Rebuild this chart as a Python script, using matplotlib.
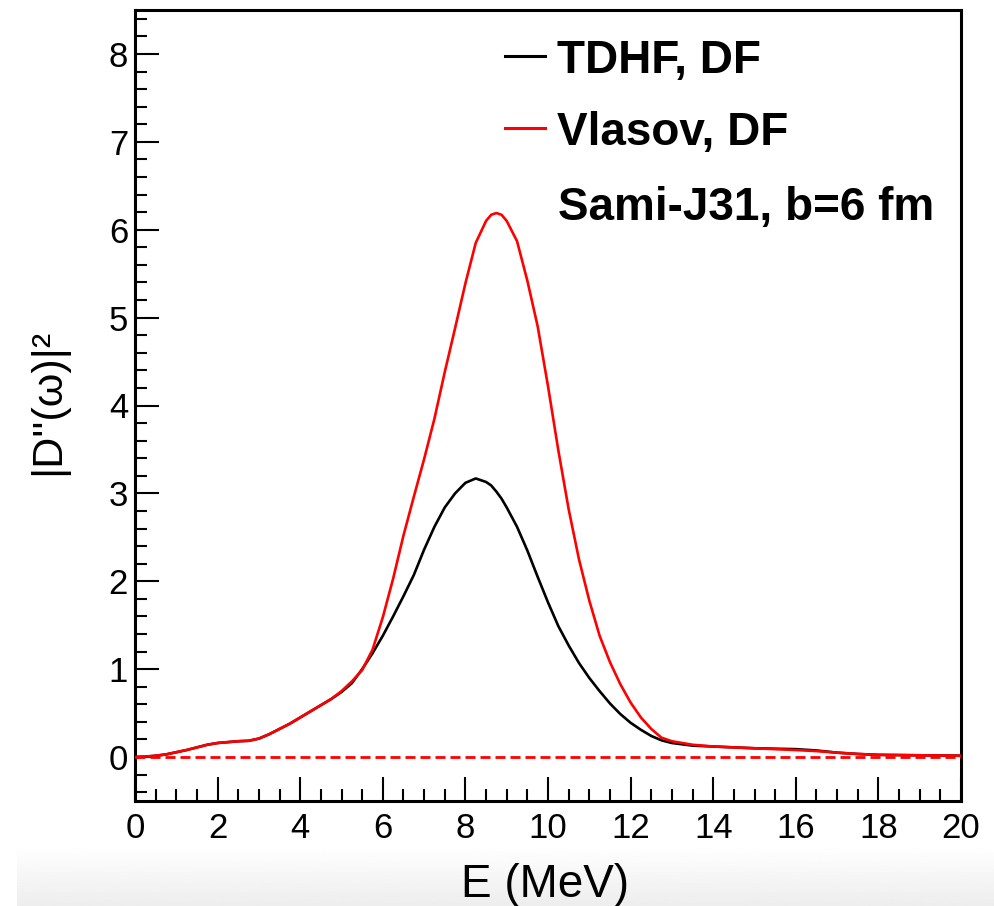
import numpy as np
import matplotlib
matplotlib.use("Agg")
import matplotlib.pyplot as plt
from matplotlib.ticker import MultipleLocator

# ---- data ----
energy = [0.0, 0.25, 0.5, 0.75, 1.0, 1.25, 1.5, 1.75, 2.0, 2.25, 2.5, 2.75,
          3.0, 3.25, 3.5, 3.75, 4.0, 4.25, 4.5, 4.75, 5.0, 5.25, 5.5, 5.75,
          6.0, 6.25, 6.5, 6.75, 7.0, 7.25, 7.5, 7.75, 8.0, 8.25, 8.5, 8.625,
          8.75, 8.875, 9.0, 9.25, 9.5, 9.75, 10.0, 10.25, 10.5, 10.75, 11.0,
          11.25, 11.5, 11.75, 12.0, 12.25, 12.5, 12.75, 13.0, 13.5, 14.0,
          14.5, 15.0, 15.5, 16.0, 16.5, 17.0, 17.5, 18.0, 19.0, 20.0]

tdhf = [0.0, 0.005, 0.015, 0.03, 0.055, 0.08, 0.11, 0.14, 0.16, 0.17, 0.18, 0.185,
        0.21, 0.26, 0.32, 0.38, 0.45, 0.52, 0.59, 0.66, 0.74, 0.84, 1.00, 1.18,
        1.38, 1.60, 1.83, 2.07, 2.36, 2.62, 2.84, 3.00, 3.12, 3.17, 3.13, 3.09,
        3.02, 2.94, 2.84, 2.62, 2.35, 2.05, 1.76, 1.49, 1.27, 1.07, 0.90,
        0.75, 0.61, 0.49, 0.39, 0.31, 0.24, 0.19, 0.16, 0.13, 0.12,
        0.11, 0.10, 0.095, 0.09, 0.075, 0.05, 0.035, 0.025, 0.02, 0.015]

vlasov = [0.0, 0.005, 0.015, 0.03, 0.055, 0.08, 0.11, 0.14, 0.16, 0.17, 0.18, 0.185,
          0.21, 0.26, 0.32, 0.38, 0.45, 0.52, 0.59, 0.66, 0.75, 0.86, 0.99, 1.22,
          1.59, 2.03, 2.52, 2.96, 3.39, 3.85, 4.38, 4.88, 5.39, 5.85, 6.10, 6.17,
          6.19, 6.17, 6.10, 5.87, 5.42, 4.90, 4.22, 3.49, 2.82, 2.25, 1.78,
          1.38, 1.08, 0.83, 0.62, 0.45, 0.32, 0.22, 0.18, 0.14, 0.12,
          0.11, 0.10, 0.09, 0.08, 0.068, 0.05, 0.035, 0.025, 0.02, 0.015]

legend_labels = ["TDHF, DF", "Vlasov, DF"]
annotation = "Sami-J31, b=6 fm"
x_label = "E (MeV)"
y_label = "|D''(ω)|²"

# ---- figure ----
W, H = 994, 906
fig = plt.figure(figsize=(W / 100, H / 100), dpi=100)
plt.rcParams['font.family'] = ['Liberation Sans', 'DejaVu Sans']

# light gray band at the bottom (screenshot artifact)
band = fig.add_axes([17 / W, 0, 1 - 17 / W, 60 / H], zorder=-5)
grad = np.linspace(1.0, 0.93, 64).reshape(-1, 1)
band.imshow(grad, aspect='auto', cmap='gray', vmin=0, vmax=1,
            extent=[0, 1, 0, 1], origin='upper')
band.set_axis_off()

L, R, B, T = 135, 961, 801, 10
ax = fig.add_axes([L / W, (H - B) / H, (R - L) / W, (B - T) / H])
ax.set_facecolor('none')

ax.plot(energy, tdhf, color='black', lw=1.9, zorder=3)
ax.plot(energy, vlasov, color='#ff0000', lw=1.9, zorder=4)
ax.axhline(0, color='#ff0000', lw=2.0, ls=(0, (3.6, 1.8)), zorder=5)

ax.set_xlim(0, 20)
ax.set_ylim(-0.5, 8.5)
ax.xaxis.set_major_locator(MultipleLocator(2))
ax.xaxis.set_minor_locator(MultipleLocator(0.5))
ax.yaxis.set_major_locator(MultipleLocator(1))
ax.yaxis.set_minor_locator(MultipleLocator(0.2))

ax.tick_params(which='both', direction='in', top=False, right=False,
               width=1.5, colors='black')
ax.tick_params(which='major', length=17)
ax.tick_params(which='minor', length=8.5)
ax.tick_params(axis='x', which='major', labelsize=25, pad=8)
ax.tick_params(axis='y', which='major', labelsize=25, pad=5)
for s in ax.spines.values():
    s.set_linewidth(2.2)

# axis titles
fig.text(545 / W, (H - 897) / H, x_label, fontsize=33, ha='center', va='baseline')
fig.text(48 / W, 1 - 402 / H, y_label, fontsize=31, rotation=90,
         ha='center', va='center')

# legend (drawn manually, ROOT style)
ty = [56, 128]
cols = ['black', '#ff0000']
for yy, c, lab in zip(ty, cols, legend_labels):
    fig.add_artist(plt.Line2D([505 / W, 545 / W], [1 - yy / H, 1 - yy / H],
                              color=c, lw=2.2))
    fig.text(557 / W, 1 - yy / H, lab, fontsize=33, fontweight='bold',
             ha='left', va='center_baseline')
fig.text(558 / W, 1 - 203 / H, annotation, fontsize=33, fontweight='bold',
         ha='left', va='center_baseline')

fig.savefig('out.png', dpi=100)
